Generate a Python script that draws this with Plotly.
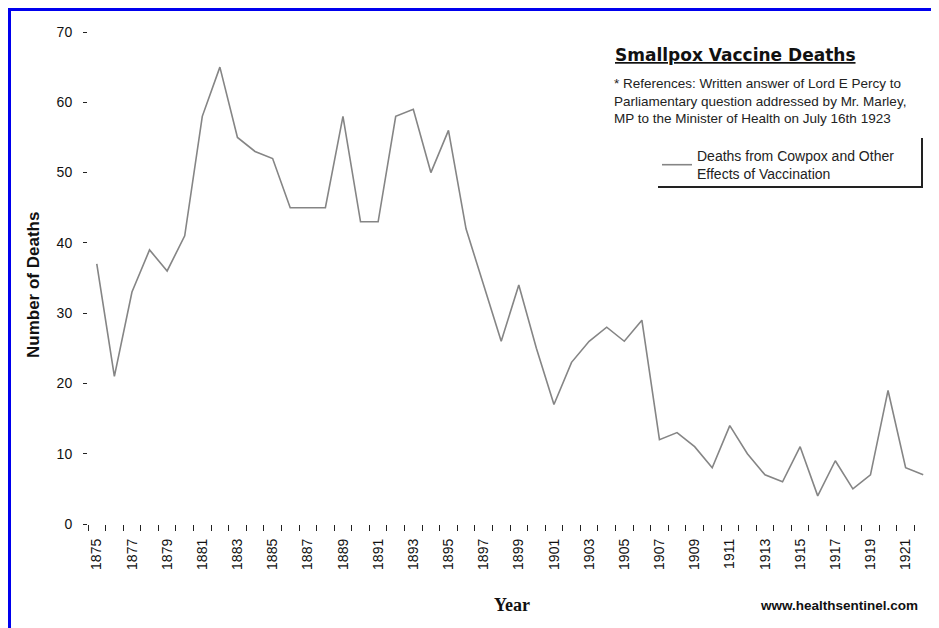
import plotly.graph_objects as go

years = list(range(1875, 1923))
deaths = [37, 21, 33, 39, 36, 41, 58, 65, 55, 53, 52, 45, 45, 45, 58, 43,
          43, 58, 59, 50, 56, 42, 34, 26, 34, 25, 17, 23, 26, 28, 26, 29,
          12, 13, 11, 8, 14, 10, 7, 6, 11, 4, 9, 5, 7, 19, 8, 7]
label_years = list(range(1875, 1922, 2))
y_ticks = [0, 10, 20, 30, 40, 50, 60, 70]

W, H = 931, 620
L, R, T, B = 80, 7, 24, 104
PW, PH = W - L - R, H - T - B


def px(x):
    return (x - L) / PW


def py(y):
    return (H - B - y) / PH


FONT = "Arial, Liberation Sans, sans-serif"

fig = go.Figure()
fig.add_trace(go.Scatter(
    x=years, y=deaths, mode="lines",
    line=dict(color="#858585", width=1.6),
    name="Deaths from Cowpox and Other<br>Effects of Vaccination",
))

fig.update_layout(
    width=W, height=H,
    margin=dict(l=L, r=R, t=T, b=B),
    paper_bgcolor="white", plot_bgcolor="white",
    font=dict(family=FONT, color="#111"),
    showlegend=True,
    legend=dict(x=px(649), y=py(132), xanchor="left", yanchor="top",
                bgcolor="rgba(0,0,0,0)", borderwidth=0,
                font=dict(size=14, color="#222"), tracegroupgap=0),
    xaxis=dict(
        range=[1874.5, 1922.5], showgrid=False, zeroline=False, showline=False,
        tickmode="array", tickvals=label_years, ticktext=[str(v) for v in label_years],
        tickangle=-90, ticks="", tickfont=dict(size=14, color="#111"),
        ticklabelstandoff=11,
        minor=dict(ticks="outside", tick0=1874.5, dtick=1, ticklen=6,
                   tickcolor="#222", tickwidth=1, showgrid=False),
    ),
    yaxis=dict(
        range=[0, 70], showgrid=False, zeroline=False, showline=False,
        tickmode="array", tickvals=y_ticks, ticks="outside", ticklen=4,
        tickcolor="#222", tickfont=dict(size=14, color="#111"),
        ticklabelstandoff=8,
    ),
)

shapes = [
    # blue frame (top and left)
    dict(type="line", xref="paper", yref="paper", x0=px(0), x1=px(931), y0=py(1.5), y1=py(1.5),
         line=dict(color="#0000ee", width=3)),
    dict(type="line", xref="paper", yref="paper", x0=px(1.5), x1=px(1.5), y0=py(0), y1=py(620),
         line=dict(color="#0000ee", width=3)),
    # light right edge
    dict(type="line", xref="paper", yref="paper", x0=px(929.5), x1=px(929.5), y0=py(6), y1=py(620),
         line=dict(color="#bbbbbb", width=1)),
    # dark right border of plot area
    dict(type="line", xref="paper", yref="paper", x0=px(925), x1=px(925), y0=py(23), y1=py(522),
         line=dict(color="#444444", width=3)),
    # legend shadow border
    dict(type="line", xref="paper", yref="paper", x0=px(914), x1=px(914), y0=py(130), y1=py(180),
         line=dict(color="#222222", width=2)),
    dict(type="line", xref="paper", yref="paper", x0=px(650), x1=px(914), y0=py(179), y1=py(179),
         line=dict(color="#222222", width=2)),
]
fig.update_layout(shapes=shapes)

annotations = [
    dict(text="<b><u>Smallpox Vaccine Deaths</u></b>", x=px(605), y=py(47),
         xanchor="left", yanchor="middle",
         font=dict(size=17, color="#111", family="DejaVu Sans, Arial, sans-serif")),
    dict(text="* References: Written answer of Lord E Percy to<br>"
              "Parliamentary question addressed by Mr. Marley,<br>"
              "MP to the Minister of Health on July 16th 1923",
         x=px(604), y=py(93), xanchor="left", yanchor="middle", align="left",
         font=dict(size=13.5, color="#222")),
    dict(text="<b>Number of Deaths</b>", x=px(25), y=py(277), textangle=-90,
         xanchor="center", yanchor="middle", font=dict(size=17, color="#111")),
    dict(text="<b>Year</b>", x=px(504), y=py(597), xanchor="center", yanchor="middle",
         font=dict(size=18, color="#111", family="Liberation Serif, Times New Roman, serif")),
    dict(text="<b>www.healthsentinel.com</b>", x=px(912), y=py(597), xanchor="right",
         yanchor="middle", font=dict(size=13.5, color="#111")),
]
for a in annotations:
    a.update(xref="paper", yref="paper", showarrow=False)
fig.update_layout(annotations=annotations)

fig.write_html("out.html")
